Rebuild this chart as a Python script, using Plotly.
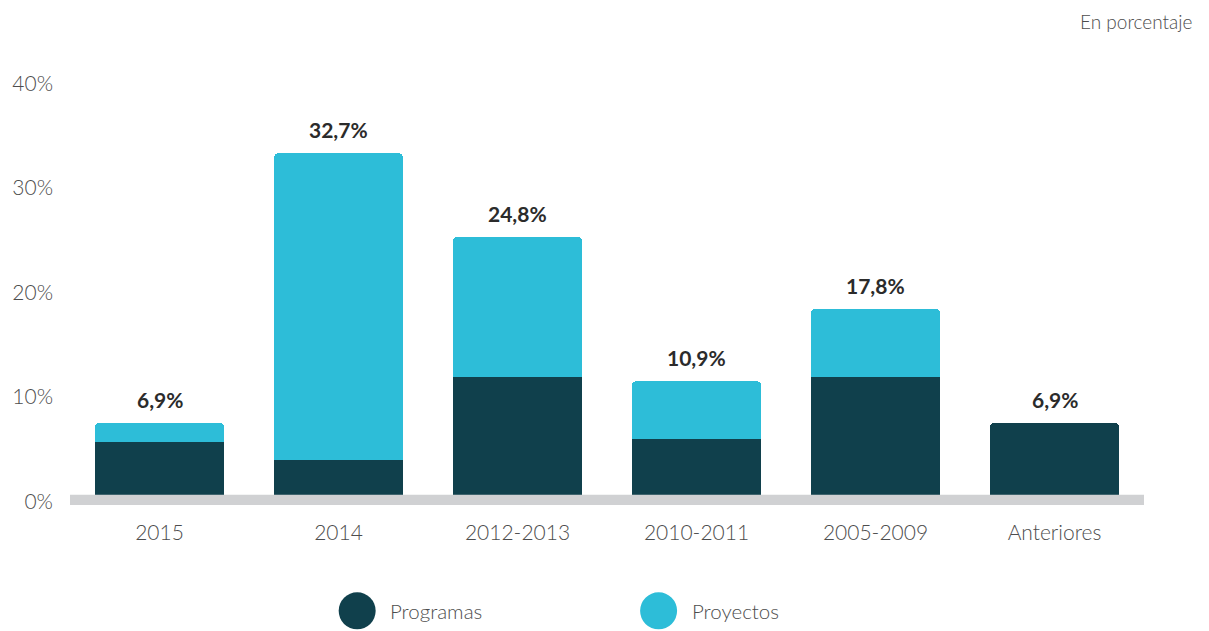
import plotly.graph_objects as go

categories = ["2015", "2014", "2012-2013", "2010-2011", "2005-2009", "Anteriores"]
programas = [5.7, 4.0, 11.9, 6.0, 11.9, 7.5]
proyectos = [1.8, 29.3, 13.4, 5.5, 6.5, 0.0]
total_labels = ["6,9%", "32,7%", "24,8%", "10,9%", "17,8%", "6,9%"]
y_ticks = [0, 10, 20, 30, 40]
y_tick_text = ["0%", "10%", "20%", "30%", "40%"]

DARK = "#10404c"
CYAN = "#2dbdd8"
FONT = "Lato, 'Open Sans', sans-serif"
GREY_TXT = "#4d4d4d"

fig = go.Figure()
fig.add_trace(go.Bar(x=categories, y=programas, name="Programas",
                     marker=dict(color=DARK, line=dict(width=0))))
fig.add_trace(go.Bar(x=categories, y=proyectos, name="Proyectos",
                     marker=dict(color=CYAN, line=dict(width=0))))

totals = [a + b for a, b in zip(programas, proyectos)]
for i, (t, lab) in enumerate(zip(totals, total_labels)):
    fig.add_annotation(x=i, y=t, text="<b>" + lab + "</b>", showarrow=False,
                       yanchor="bottom", yshift=9,
                       font=dict(family=FONT, size=21, color="#2b2b2b"))

# baseline band
fig.add_shape(type="rect", xref="paper", yref="y", x0=0, x1=1, y0=-0.36, y1=0.62,
              fillcolor="#d0d1d3", line=dict(width=0), layer="above")

# custom legend
legend_items = [("Programas", DARK, 356), ("Proyectos", CYAN, 658)]
for name, col, px in legend_items:
    xp = (px - 68.3) / 1076.0
    fig.add_shape(type="circle", xref="paper", yref="paper",
                  xsizemode="pixel", ysizemode="pixel",
                  xanchor=xp, yanchor=(505.2 - 611) / 427.0,
                  x0=-18.5, x1=18.5, y0=-18.5, y1=18.5,
                  fillcolor=col, line=dict(width=0))
    fig.add_annotation(xref="paper", yref="paper", x=xp, y=(505.2 - 611) / 427.0,
                       xshift=31, xanchor="left", yanchor="middle", text=name,
                       showarrow=False,
                       font=dict(family=FONT, size=20.5, color=GREY_TXT, weight=300))

fig.add_annotation(xref="paper", yref="paper", x=(1194 - 68.3) / 1076.0,
                   y=(505.2 - 22) / 427.0, xanchor="right", yanchor="middle",
                   text="En porcentaje", showarrow=False,
                   font=dict(family=FONT, size=19, color=GREY_TXT, weight=300))

fig.update_layout(
    barmode="stack",
    bargap=0.275,
    barcornerradius=5,
    showlegend=False,
    width=1209, height=631,
    margin=dict(l=68, r=65, t=78, b=126),
    plot_bgcolor="white", paper_bgcolor="white",
    font=dict(family=FONT, color=GREY_TXT, size=19),
    xaxis=dict(type="category", range=[-0.5, 5.5], showgrid=False, zeroline=False,
               showline=False, ticks="",
               tickfont=dict(size=21, color=GREY_TXT, weight=300), ticklabelstandoff=13),
    yaxis=dict(range=[-0.35, 40.5], tickvals=y_ticks, ticktext=y_tick_text,
               showgrid=False, zeroline=False, showline=False, ticks="",
               tickfont=dict(size=21, color=GREY_TXT, weight=300), ticklabelstandoff=16),
)

fig.write_html("out.html", config={"displayModeBar": False},
               post_script="document.body.style.margin='0';")
